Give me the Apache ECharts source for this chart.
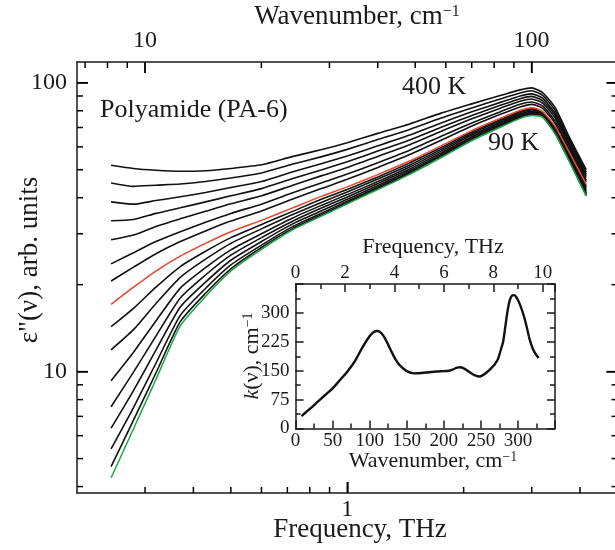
<!DOCTYPE html>
<html><head><meta charset="utf-8">
<script src="https://cdn.jsdelivr.net/npm/echarts@6/dist/echarts.min.js"></script>
<style>html,body{margin:0;padding:0;background:#fff}#c{width:615px;height:550px}</style>
</head><body><div id="c"></div>
<script>
// ---------- main plot data: eps''(nu) vs frequency (THz) ----------
const freqTHz = [0.245, 0.28, 0.32, 0.37, 0.43, 0.5, 0.6, 0.72, 0.86, 1.0, 1.2, 1.45, 1.75, 2.1, 2.5, 2.8, 3.0, 3.2, 3.45, 3.75, 4.15];
const c01_400K = [51.8, 50.5, 49.8, 49.4, 49.6, 50.5, 52.0, 55.5, 58.7, 62.0, 66.8, 72.0, 78.5, 84.5, 90.5, 94.5, 96.0, 92.5, 82.0, 65.0, 50.0];
const c02 = [45.0, 43.8, 44.2, 44.6, 45.5, 46.8, 48.7, 52.2, 55.5, 58.8, 63.6, 68.9, 75.5, 81.8, 88.1, 92.2, 93.8, 90.4, 80.2, 63.8, 49.1];
const c03 = [38.7, 38.0, 39.1, 40.3, 41.7, 43.4, 45.5, 49.1, 52.5, 55.8, 60.5, 65.9, 72.6, 79.3, 85.7, 90.0, 91.5, 88.4, 78.4, 62.7, 48.3];
const c04 = [33.3, 33.6, 35.3, 36.9, 38.7, 40.6, 43.0, 46.5, 50.0, 53.3, 58.0, 63.4, 70.2, 77.1, 83.7, 88.1, 89.7, 86.7, 76.9, 61.7, 47.6];
const c05 = [28.6, 29.7, 31.8, 33.8, 35.9, 38.1, 40.6, 44.1, 47.7, 50.9, 55.6, 61.0, 67.9, 75.0, 81.8, 86.3, 87.9, 85.0, 75.4, 60.7, 46.9];
const c06 = [23.6, 25.8, 28.2, 30.5, 32.9, 35.3, 38.0, 41.5, 45.1, 48.3, 52.9, 58.4, 65.3, 72.6, 79.6, 84.2, 85.8, 83.1, 73.6, 59.6, 46.0];
const c07 = [20.6, 23.0, 25.6, 28.2, 30.7, 33.2, 36.0, 39.5, 43.1, 46.3, 50.9, 56.4, 63.2, 70.8, 77.9, 82.5, 84.2, 81.6, 72.3, 58.7, 45.4];
const c08_red = [17.1, 19.6, 22.3, 25.1, 27.8, 30.5, 33.4, 36.8, 40.5, 43.6, 48.1, 53.6, 60.5, 68.3, 75.5, 80.3, 82.0, 79.5, 70.5, 57.5, 44.5];
const c09 = [14.3, 16.55, 19.6, 23.1, 26.1, 29.1, 32.3, 35.8, 39.6, 42.7, 47.2, 52.8, 59.7, 67.5, 74.7, 79.5, 81.2, 79.0, 69.9, 56.9, 43.9];
const c10 = [11.9, 13.97, 17.2, 21.2, 24.5, 27.8, 31.2, 34.9, 38.6, 41.9, 46.4, 51.9, 58.8, 66.7, 74.0, 78.8, 80.5, 78.4, 69.3, 56.3, 43.3];
const c11 = [9.3, 11.67, 14.98, 19.45, 22.9, 26.4, 30.0, 33.95, 37.7, 41.0, 45.5, 51.1, 58.0, 65.9, 73.1, 78.0, 79.7, 77.9, 68.6, 55.6, 42.6];
const c12 = [7.56, 9.96, 13.27, 17.98, 21.6, 25.3, 29.1, 33.1, 36.9, 40.2, 44.8, 50.3, 57.2, 65.1, 72.4, 77.3, 79.0, 77.4, 68.1, 55.1, 42.1];
const c13 = [6.37, 8.60, 11.86, 16.73, 20.4, 24.3, 28.2, 32.4, 36.1, 39.5, 44.1, 49.6, 56.5, 64.5, 71.8, 76.6, 78.3, 76.9, 67.5, 54.6, 41.5];
const c14 = [5.40, 7.51, 10.69, 15.65, 19.4, 23.4, 27.4, 31.7, 35.4, 38.9, 43.5, 49.0, 55.9, 63.9, 71.2, 76.0, 77.7, 76.5, 67.1, 54.1, 41.1];
const c15 = [4.69, 6.79, 9.89, 14.89, 18.67, 22.7, 26.9, 31.2, 34.9, 38.4, 43.0, 48.5, 55.4, 63.4, 70.7, 75.6, 77.3, 76.2, 66.7, 53.7, 40.7];
const c16_90K = [4.29, 6.34, 9.39, 14.4, 18.2, 22.3, 26.5, 30.9, 34.6, 38.1, 42.7, 48.2, 55.1, 63.1, 70.4, 75.3, 77.0, 76.0, 66.5, 53.5, 40.5];

// ---------- tick values ----------
const freqMajorTicks = [1];
const freqMinorTicks = [0.3, 0.4, 0.5, 0.6, 0.7, 0.8, 0.9, 2, 3, 4];
const wnMajorTicks = [10, 100];
const wnMinorTicks = [7, 8, 9, 20, 30, 40, 50, 60, 70, 80, 90];
const epsMajorTicks = [10, 100];
const epsMinorTicks = [4, 5, 6, 7, 8, 9, 20, 30, 40, 50, 60, 70, 80, 90];

// ---------- inset data: k(nu) vs wavenumber ----------
const insetWavenumber = [8, 20, 30, 40, 50, 60, 70, 80, 90, 100, 105, 110, 115, 120, 125, 130, 135, 140, 150, 160, 170, 180, 190, 200, 207, 213, 218, 222, 227, 232, 238, 243, 248, 253, 258, 263, 268, 273, 277, 280, 283, 286, 289, 292, 295, 299, 303, 308, 312, 316, 320, 324, 328];
const insetK = [32, 52, 70, 87, 104, 126, 148, 175, 210, 240, 250, 253, 249, 236, 217, 197, 179, 165, 149, 143, 144, 146, 148, 149, 150, 154, 158, 159, 156, 150, 142, 137, 135, 139, 146, 155, 165, 180, 205, 225, 265, 305, 333, 345, 346, 337, 320, 292, 262, 230, 207, 193, 183];

const THZ_TO_CM = 33.356;
const F_MIN = 0.2, F_MAX = 5;       // THz
const E_MIN = 3.8, E_MAX = 118;     // arb. units
const ink = '#1a1a1a';
const serif = "'Liberation Serif','Times New Roman',serif";

const blackCurves = [c01_400K, c02, c03, c04, c05, c06, c07, c09, c10, c11, c12, c13, c14, c15];

function lineSeries(arr, color, w) {
  return {
    type: 'line', xAxisIndex: 0, yAxisIndex: 0, symbol: 'none', silent: true, smooth: 0.2,
    lineStyle: { color: color, width: w }, z: 3,
    data: freqTHz.map((f, i) => [f, arr[i]])
  };
}

// frame tick marks: small rect symbols sitting on the frame, placed via the axes' log scales
function tickSeries(xIdx, side, values, len) {
  const isX = side === 'bottom' || side === 'top';
  let data, off;
  if (side === 'bottom') { data = values.map(v => [v, E_MIN]); off = [0, -len / 2]; }
  else if (side === 'top') { data = values.map(v => [v, E_MAX]); off = [0, len / 2]; }
  else if (side === 'left') { data = values.map(v => [F_MIN, v]); off = [len / 2, 0]; }
  else { data = values.map(v => [F_MAX, v]); off = [-len / 2, 0]; }
  return {
    type: 'scatter', xAxisIndex: xIdx, yAxisIndex: 0, silent: true, clip: false, z: 20, zlevel: 0,
    symbol: 'rect', symbolSize: isX ? [1.5, len] : [len, 1.5], symbolOffset: off,
    itemStyle: { color: '#000', opacity: 1, borderWidth: 0 }, emphasis: { disabled: true },
    data: data
  };
}

const series = blackCurves.map(a => lineSeries(a, '#111', 1.6));
series.push(lineSeries(c08_red, '#e8452c', 1.5));
series.push(lineSeries(c16_90K, '#1aa64a', 1.5));
series.push(tickSeries(0, 'bottom', freqMajorTicks, 11));
series.push(tickSeries(0, 'bottom', freqMinorTicks, 6));
series.push(tickSeries(1, 'top', wnMajorTicks, 11));
series.push(tickSeries(1, 'top', wnMinorTicks, 6));
series.push(tickSeries(0, 'left', epsMajorTicks, 11));
series.push(tickSeries(0, 'left', epsMinorTicks, 6));
series.push(tickSeries(0, 'right', epsMajorTicks, 11));
series.push(tickSeries(0, 'right', epsMinorTicks, 6));
series.push({
  type: 'line', xAxisIndex: 2, yAxisIndex: 1, symbol: 'none', smooth: 0.3, silent: true,
  lineStyle: { color: '#111', width: 2.4 },
  data: insetWavenumber.map((w, i) => [w, insetK[i]])
});

const lineSt = { color: ink, width: 1.5 };
const hidden = { show: false };

function mainLog(pos, min, max, tickVals, labelVals, margin) {
  return {
    type: 'log', logBase: 10, gridIndex: 0, position: pos, min: min, max: max,
    splitLine: hidden, minorTick: hidden, minorSplitLine: hidden,
    axisLine: { show: true, onZero: false, lineStyle: lineSt },
    axisTick: { show: true, inside: true, length: 11, customValues: tickVals, lineStyle: lineSt },
    axisLabel: labelVals ? { show: true, customValues: labelVals, fontSize: 24, fontFamily: serif, color: ink, margin: margin, formatter: v => String(Math.round(v)) } : hidden
  };
}
function insetAxis(pos, min, max, interval, labels, margin, hideAbove) {
  return {
    type: 'value', gridIndex: 1, position: pos, min: min, max: max, interval: interval,
    splitLine: hidden,
    axisLine: { show: true, onZero: false, lineStyle: lineSt },
    axisTick: { show: true, inside: true, length: 8, lineStyle: lineSt },
    minorTick: { show: true, splitNumber: 2, length: 5, lineStyle: lineSt },
    axisLabel: labels ? { show: true, fontSize: 19, fontFamily: serif, color: ink, margin: margin,
      formatter: v => (v > hideAbove + 1e-6 ? '' : String(Math.round(v))) } : hidden
  };
}

const option = {
  animation: false,
  backgroundColor: '#fff',
  grid: [
    { left: 77, top: 62, width: 540.5, height: 431, outerBoundsMode: 'none', containLabel: false },
    { left: 295.6, top: 284, width: 259.4, height: 144.5, outerBoundsMode: 'none', containLabel: false, show: true, backgroundColor: '#fff', borderWidth: 0 }
  ],
  xAxis: [
    mainLog('bottom', F_MIN, F_MAX, freqMajorTicks, freqMajorTicks, 5),
    mainLog('top', F_MIN * THZ_TO_CM, F_MAX * THZ_TO_CM, wnMajorTicks, wnMajorTicks, 9),
    insetAxis('bottom', 0, 350, 50, true, 3, 300),
    insetAxis('top', 0, 350 / THZ_TO_CM, 2, true, 1, 10)
  ],
  yAxis: [
    mainLog('left', E_MIN, E_MAX, epsMajorTicks, epsMajorTicks, 10),
    insetAxis('left', 0, 375, 75, true, 6, 300),
    insetAxis('right', 0, 375, 75, false, 0, 300),
    mainLog('right', E_MIN, E_MAX, epsMajorTicks, null, 0)
  ],
  graphic: [
    { type: 'text', x: 357, y: 17, style: { text: '{a|Wavenumber, cm}{s|−1}', align: 'center', verticalAlign: 'middle', textAlign: 'center', textVerticalAlign: 'middle',
      rich: { a: { fontSize: 27, fontFamily: serif, fill: ink, color: ink }, s: { fontSize: 16, fontFamily: serif, fill: ink, color: ink, verticalAlign: 'top' } } } },
    { type: 'text', x: 360, y: 530, style: { text: 'Frequency, THz', font: '27px ' + serif, fill: ink, align: 'center', verticalAlign: 'middle', textAlign: 'center', textVerticalAlign: 'middle' } },
    { type: 'text', x: 30, y: 260, rotation: Math.PI / 2, style: { text: 'ε"(ν), arb. units', font: '27px ' + serif, fill: ink, align: 'center', verticalAlign: 'middle', textAlign: 'center', textVerticalAlign: 'middle' } },
    { type: 'text', x: 100, y: 110, style: { text: 'Polyamide (PA-6)', font: '26px ' + serif, fill: ink, align: 'left', verticalAlign: 'middle', textAlign: 'left', textVerticalAlign: 'middle' } },
    { type: 'text', x: 402, y: 87, style: { text: '400 K', font: '26px ' + serif, fill: ink, align: 'left', verticalAlign: 'middle', textAlign: 'left', textVerticalAlign: 'middle' } },
    { type: 'text', x: 488, y: 143, style: { text: '90 K', font: '26px ' + serif, fill: ink, align: 'left', verticalAlign: 'middle', textAlign: 'left', textVerticalAlign: 'middle' } },
    { type: 'text', x: 433, y: 247, z: 10, style: { text: 'Frequency, THz', font: '22px ' + serif, fill: ink, align: 'center', verticalAlign: 'middle', textAlign: 'center', textVerticalAlign: 'middle' } },
    { type: 'text', x: 433, y: 461, z: 10, style: { text: '{a|Wavenumber, cm}{s|−1}', align: 'center', verticalAlign: 'middle', textAlign: 'center', textVerticalAlign: 'middle',
      rich: { a: { fontSize: 22, fontFamily: serif, fill: ink, color: ink }, s: { fontSize: 14, fontFamily: serif, fill: ink, color: ink, verticalAlign: 'top' } } } },
    { type: 'text', x: 252, y: 356, z: 10, rotation: Math.PI / 2, style: { text: '{i|k}{a|(ν), cm}{s|−1}', align: 'center', verticalAlign: 'middle', textAlign: 'center', textVerticalAlign: 'middle',
      rich: { i: { fontSize: 22, fontFamily: serif, fontStyle: 'italic', fill: ink, color: ink }, a: { fontSize: 22, fontFamily: serif, fill: ink, color: ink }, s: { fontSize: 14, fontFamily: serif, fill: ink, color: ink, verticalAlign: 'top' } } } }
  ],
  series: series
};

const chart = echarts.init(document.getElementById('c'), null, { renderer: 'canvas' });
chart.setOption(option);
</script>
</body></html>
